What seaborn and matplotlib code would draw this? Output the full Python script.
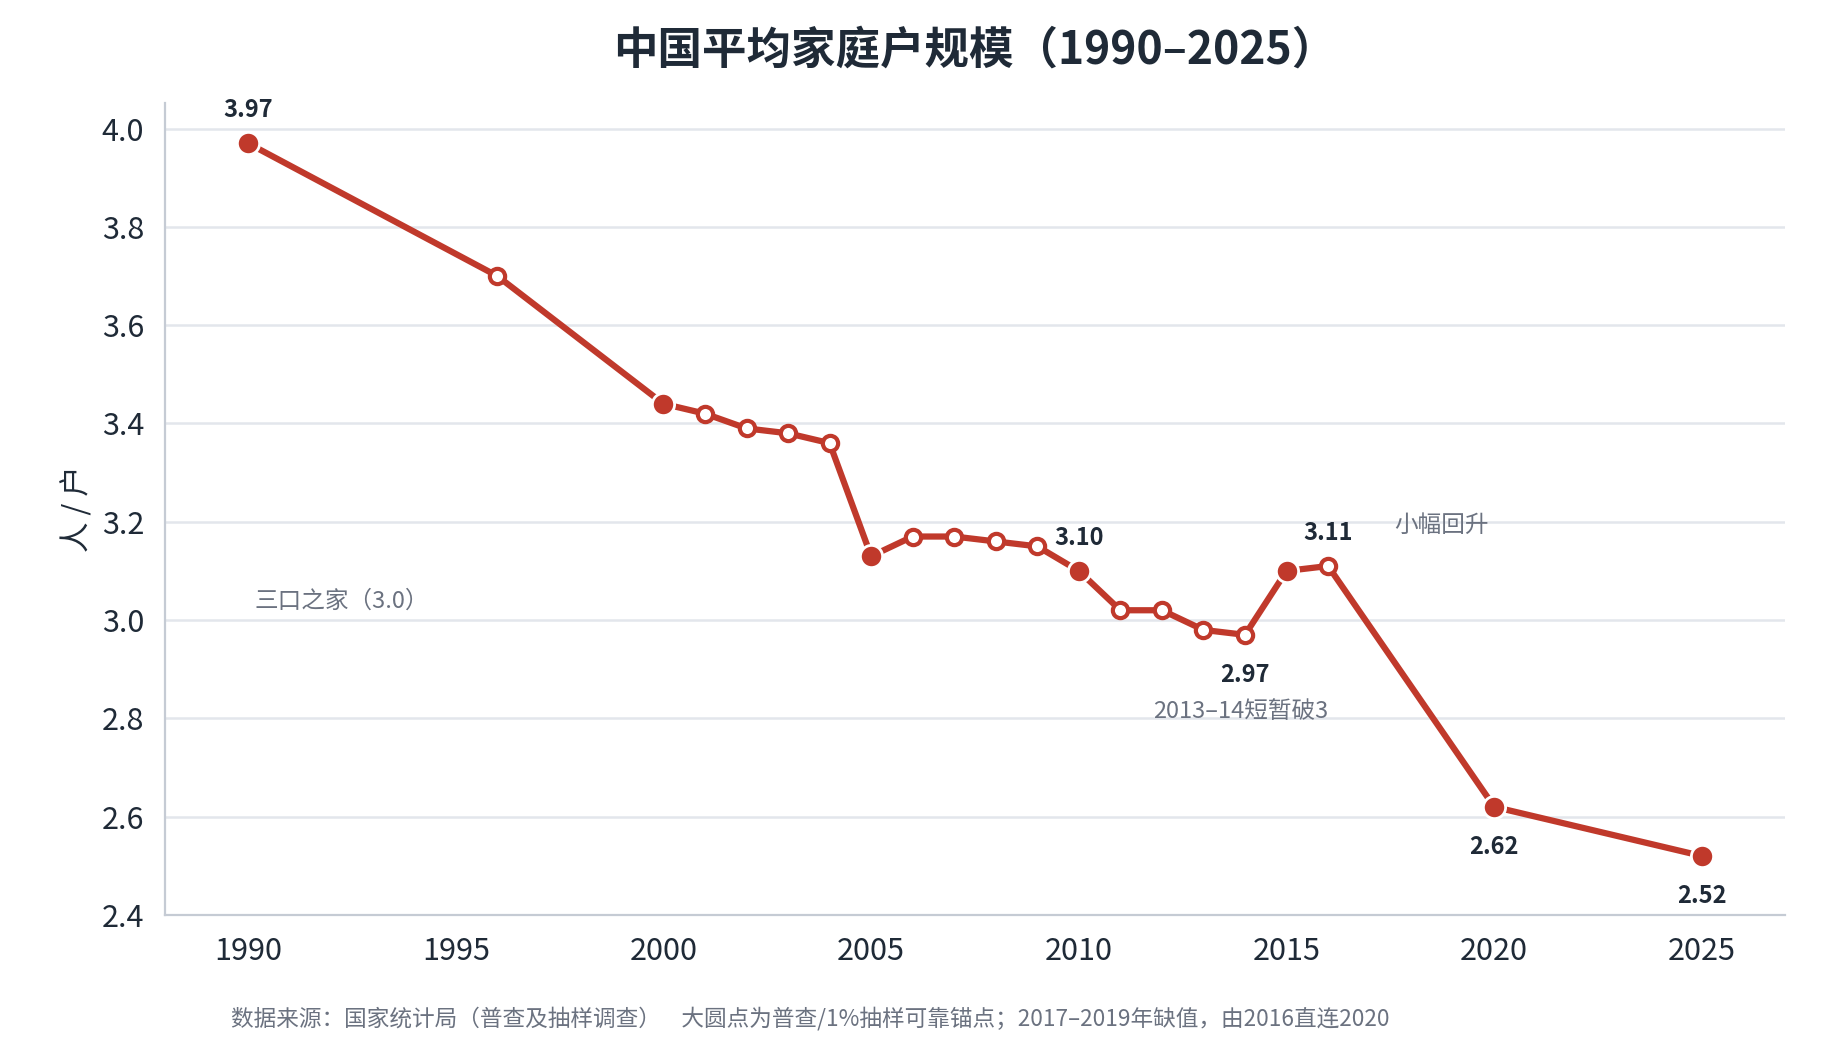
import matplotlib
matplotlib.use("Agg")
import matplotlib.pyplot as plt
import seaborn as sns
import pandas as pd

years = [1990, 1996, 2000, 2001, 2002, 2003, 2004, 2005, 2006, 2007, 2008,
         2009, 2010, 2011, 2012, 2013, 2014, 2015, 2016, 2020, 2025]
sizes = [3.97, 3.70, 3.44, 3.42, 3.39, 3.38, 3.36, 3.13, 3.17, 3.17, 3.16,
         3.15, 3.10, 3.02, 3.02, 2.98, 2.97, 3.10, 3.11, 2.62, 2.52]
anchor_years = [1990, 2000, 2005, 2010, 2015, 2020, 2025]
labels_above = {1990: "3.97", 2010: "3.10", 2016: "3.11"}
labels_below = {2014: "2.97", 2020: "2.62", 2025: "2.52"}
xticks = [1990, 1995, 2000, 2005, 2010, 2015, 2020, 2025]
yticks = [2.4, 2.6, 2.8, 3.0, 3.2, 3.4, 3.6, 3.8, 4.0]

title = "中国平均家庭户规模（1990–2025）"
ylabel = "人 / 户"
footer = "数据来源：国家统计局（普查及抽样调查）    大圆点为普查/1%抽样可靠锚点；2017–2019年缺值，由2016直连2020"

RED = "#c0392b"
DARK = "#1f2a37"
GREY = "#6b7280"

sns.set_theme(style="white")
plt.rcParams['font.family'] = ['Noto Sans CJK SC', 'DejaVu Sans']

df = pd.DataFrame({"year": years, "size": sizes})
df["anchor"] = df["year"].isin(anchor_years)

fig = plt.figure(figsize=(18.39, 10.40), dpi=100)
ax = fig.add_axes([165 / 1839, 1 - 915 / 1040, (1785 - 165) / 1839, (915 - 103) / 1040])

for y in yticks[1:]:
    ax.axhline(y, color="#e3e6ec", lw=1.8, zorder=0)

sns.lineplot(data=df, x="year", y="size", ax=ax, color=RED, lw=4.5, zorder=2,
             legend=False)
an = df[df["anchor"]]
op = df[~df["anchor"]]
ax.plot(op["year"], op["size"], ls="none", marker="o", ms=11, mfc="white",
        mec=RED, mew=3.0, zorder=3)
ax.plot(an["year"], an["size"], ls="none", marker="o", ms=16, mfc=RED,
        mec="white", mew=2.0, zorder=4)

for yr, txt in labels_above.items():
    v = sizes[years.index(yr)]
    ax.annotate(txt, (yr, v), xytext=(0, 24), textcoords="offset points",
                ha="center", va="center", fontsize=17, fontweight="bold", color=DARK)
for yr, txt in labels_below.items():
    v = sizes[years.index(yr)]
    ax.annotate(txt, (yr, v), xytext=(0, -29), textcoords="offset points",
                ha="center", va="center", fontsize=17, fontweight="bold", color=DARK)

ax.text(1990.15, 3.038, "三口之家（3.0）", ha="left", va="center", fontsize=17, color=GREY)
ax.text(2013.9, 2.814, "2013–14短暂破3", ha="center", va="center", fontsize=17, color=GREY)
ax.text(2017.6, 3.193, "小幅回升", ha="left", va="center", fontsize=17, color=GREY)

ax.set_xlim(1988, 2027)
ax.set_ylim(2.4, 4.052)
ax.set_xticks(xticks)
ax.set_yticks(yticks)
ax.set_yticklabels([f"{v:.1f}" for v in yticks])
ax.tick_params(axis="both", labelsize=22, colors=DARK, length=7, width=1.6,
               direction="out", pad=8)
ax.tick_params(axis="x", pad=8)
ax.set_xlabel("")
ax.set_ylabel(ylabel, fontsize=22, color=DARK, labelpad=6)
for s in ["top", "right"]:
    ax.spines[s].set_visible(False)
for s in ["left", "bottom"]:
    ax.spines[s].set_color("#c5cbd4")
    ax.spines[s].set_linewidth(1.6)

fig.text((165 + 1785) / 2 / 1839, 1 - 51 / 1040, title, ha="center", va="center",
         fontsize=32, fontweight="bold", color=DARK)
fig.text(231 / 1839, 1 - 1019 / 1040, footer, ha="left", va="center",
         fontsize=16.3, color=GREY)

fig.savefig("out.png", dpi=100, facecolor="white")
